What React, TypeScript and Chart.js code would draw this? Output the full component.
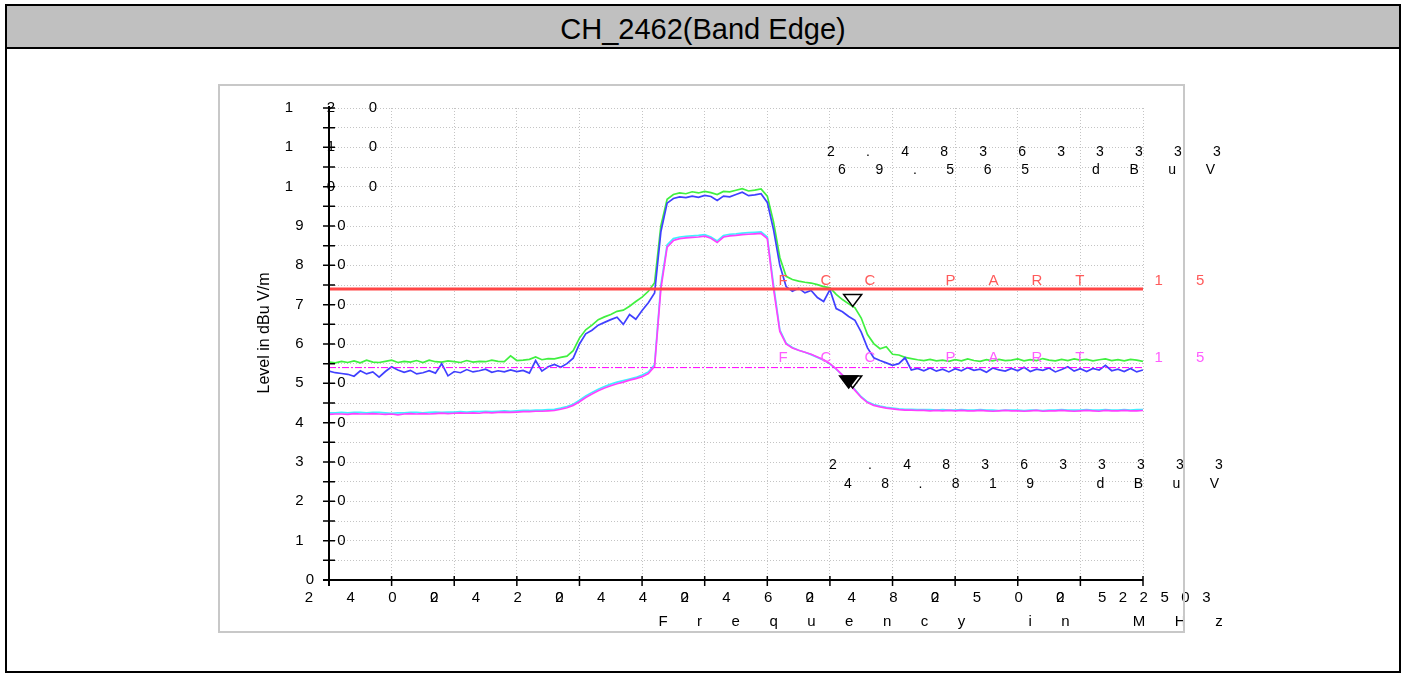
import React, { useEffect, useRef } from "react";
import { Chart, registerables } from "chart.js";

Chart.register(...registerables);

const TITLE = "CH_2462(Band Edge)";
const Y_AXIS_TITLE = "Level in dBu V/m";
const X_AXIS_TITLE = "Frequency in MHz";
const LIMIT_LABEL = "FCC PART 15";

// sweep grid: 2400 MHz .. 2530 MHz, 1 MHz per point
const sweepStartMHz = 2400;
const sweepStepMHz = 1;

// peak trace, horizontal (green)
const peakH = [
  55.4, 55.2, 55.6, 55.3, 55.7, 55.2, 55.9, 55.4, 55.3, 55.6,
  55.9, 55.3, 55.6, 55.4, 55.8, 55.3, 55.9, 55.5, 55.4, 55.7,
  55.5, 55.3, 55.8, 55.4, 55.6, 55.5, 55.9, 55.6, 55.5, 57.0,
  55.8, 55.9, 56.1, 56.7, 56.0, 56.3, 56.2, 56.6, 56.9, 58.3,
  61.5, 63.6, 64.8, 66.2, 66.9, 67.5, 68.3, 68.6, 69.6, 70.8,
  71.9, 73.4, 75.6, 90.0, 96.8, 98.0, 98.4, 98.2, 98.7, 98.4,
  98.8, 98.5, 98.0, 98.8, 98.7, 99.1, 99.5, 98.9, 99.1, 99.4,
  97.6, 91.0, 82.0, 77.2, 76.4, 76.0, 75.7, 75.5, 75.1, 74.6,
  74.3, 72.6, 71.3, 70.2, 69.2, 66.6, 62.4, 60.1, 58.8, 59.3,
  57.4, 57.2, 56.6, 56.3, 56.0, 55.8, 56.1, 55.7, 55.9, 55.6,
  56.0, 55.7, 56.2, 55.8, 55.6, 56.0, 55.7, 56.1, 55.8, 55.9,
  56.2, 55.7, 56.0, 55.8, 56.3, 55.9, 55.7, 56.1, 55.8, 56.2,
  55.9, 56.1, 55.7, 56.0, 56.2, 55.8, 56.0, 55.7, 56.1, 55.9, 55.6,
];

// peak trace, vertical (blue)
const peakV = [
  53.1, 52.7, 52.5, 52.3, 51.8, 53.2, 52.4, 52.9, 51.6, 53.0,
  54.2, 53.4, 52.8, 53.3, 52.4, 52.7, 53.2, 52.6, 55.0, 51.9,
  53.0, 52.7, 53.5, 52.9, 53.2, 53.6, 52.8, 53.2, 52.9, 53.4,
  53.0, 53.3, 52.6, 55.8, 53.1, 54.2, 54.8, 54.1, 55.0, 56.4,
  60.0, 62.6, 63.5, 64.8, 65.5, 66.2, 66.8, 65.0, 67.5, 66.3,
  68.5, 70.5, 73.0, 88.5, 95.8, 97.0, 97.4, 97.2, 97.6, 97.3,
  97.8, 97.5, 96.5, 97.6, 97.4, 98.0, 98.6, 97.7, 97.9, 98.2,
  96.0, 89.0, 80.0, 74.6, 73.4, 74.2, 73.0, 73.6, 71.8, 70.8,
  73.8, 69.0, 68.2, 67.0, 66.0, 63.0, 59.0, 56.5, 55.8, 55.2,
  54.6, 55.0, 56.5, 53.4, 53.8, 53.2, 53.9, 53.1, 53.6, 52.9,
  53.7, 53.2, 54.0, 53.3, 53.6, 52.8, 53.9, 53.4, 53.1, 53.8,
  53.2, 54.1, 53.0, 53.6, 53.3, 53.9, 52.9, 53.5, 54.2, 53.1,
  53.7, 53.0, 53.8, 53.4, 54.6, 53.2, 53.6, 53.0, 53.8, 52.9, 53.4,
];

// average trace, horizontal (cyan)
const avgH = [
  42.5, 42.5, 42.6, 42.5, 42.6, 42.6, 42.5, 42.6, 42.6, 42.5,
  42.4, 42.5, 42.5, 42.6, 42.6, 42.5, 42.6, 42.7, 42.6, 42.7,
  42.7, 42.8, 42.7, 42.8, 42.8, 42.9, 42.8, 42.9, 43.0, 42.9,
  43.0, 43.1, 43.1, 43.2, 43.2, 43.3, 43.4, 43.7, 44.1, 44.7,
  45.7, 46.8, 47.7, 48.5, 49.2, 49.8, 50.3, 50.7, 51.1, 51.5,
  52.1, 52.9, 54.8, 75.0, 85.2, 86.8, 87.2, 87.4, 87.5, 87.6,
  87.8, 87.2, 86.2, 87.6, 87.9, 88.0, 88.2, 88.3, 88.4, 88.5,
  87.2, 75.0, 63.6, 60.2, 59.1, 58.4, 57.9, 57.3, 56.6, 55.9,
  54.9, 53.6, 52.1, 50.2, 48.4, 46.6, 45.3, 44.6, 44.2, 43.9,
  43.7, 43.5, 43.4, 43.4, 43.3, 43.3, 43.3, 43.2, 43.3, 43.2,
  43.2, 43.3, 43.2, 43.2, 43.3, 43.2, 43.2, 43.1, 43.2, 43.2,
  43.2, 43.1, 43.2, 43.2, 43.1, 43.2, 43.2, 43.3, 43.2, 43.2,
  43.2, 43.3, 43.2, 43.2, 43.3, 43.2, 43.2, 43.3, 43.2, 43.3, 43.3,
];

// average trace, vertical (magenta)
const avgV = [
  42.1, 42.2, 42.2, 42.1, 42.3, 42.2, 42.2, 42.3, 42.2, 42.1,
  42.2, 42.0, 42.2, 42.3, 42.2, 42.3, 42.2, 42.3, 42.4, 42.3,
  42.4, 42.5, 42.4, 42.5, 42.4, 42.6, 42.5, 42.6, 42.7, 42.6,
  42.7, 42.8, 42.8, 42.9, 42.9, 43.0, 43.1, 43.4, 43.8, 44.4,
  45.3, 46.4, 47.3, 48.1, 48.8, 49.4, 49.9, 50.3, 50.8, 51.2,
  51.7, 52.5, 54.3, 74.0, 84.6, 86.3, 86.8, 87.0, 87.1, 87.2,
  87.4, 86.9, 85.8, 87.2, 87.5, 87.6, 87.8, 87.9, 88.0, 88.1,
  86.8, 74.0, 63.2, 60.0, 59.0, 58.4, 57.9, 57.4, 56.7, 56.0,
  55.0, 53.7, 52.1, 50.1, 48.2, 46.4, 45.1, 44.4, 44.0, 43.7,
  43.5, 43.3, 43.2, 43.2, 43.1, 43.1, 43.0, 43.1, 43.0, 43.1,
  43.0, 43.1, 43.0, 43.0, 43.1, 43.0, 42.9, 43.0, 43.1, 43.0,
  43.0, 42.9, 43.0, 43.1, 42.9, 43.0, 43.0, 43.1, 43.0, 42.9,
  43.0, 43.1, 43.0, 42.9, 43.1, 43.0, 43.0, 43.1, 43.0, 43.0, 43.1,
];

const limitFreq = [2400, 2530];
const peakLimit = [74, 74];
const avgLimit = [54, 54];

const yTickValues = [0, 5, 10, 15, 20, 25, 30, 35, 40, 45, 50, 55, 60, 65, 70, 75, 80, 85, 90, 95, 100, 105, 110, 115, 120];
const yLabelValues = [0, 10, 20, 30, 40, 50, 60, 70, 80, 90, 100, 110, 120];
const xTickValues = [2400, 2410, 2420, 2430, 2440, 2450, 2460, 2470, 2480, 2490, 2500, 2510, 2520, 2530];
const xLabelValues = [2400, 2420, 2440, 2460, 2480, 2500, 2520, 2530];

const markerFreq = [2483.633, 2483.633, 2483.0];
const markerLevel = [69.565, 48.819, 48.819];
const markerFilled = [false, false, true];
const markerReadoutFreq = ["2.483633333", "2.483633333"];
const markerReadoutLevel = ["69.565 dBuV", "48.819 dBuV"];

const FONT = '"Liberation Sans", Arial, sans-serif';

function drawPitched(ctx: CanvasRenderingContext2D, text: string, x: number, y: number, pitch: number) {
  for (let i = 0; i < text.length; i++) {
    if (text[i] !== " ") ctx.fillText(text[i], x + i * pitch, y);
  }
}

function drawSpaced(ctx: CanvasRenderingContext2D, text: string, x: number, y: number, spacing: number) {
  let cx = x;
  for (let i = 0; i < text.length; i++) {
    const w = ctx.measureText(text[i]).width;
    if (i > 0) {
      const pw = ctx.measureText(text[i - 1]).width;
      cx += pw / 2 + w / 2 + spacing;
    }
    if (text[i] !== " ") ctx.fillText(text[i], cx, y);
  }
}

const decorPlugin = {
  id: "decor",
  afterDraw(chart: any) {
    const ctx: CanvasRenderingContext2D = chart.ctx;
    const xs = chart.scales.x;
    const ys = chart.scales.y;
    const ax = xs.getPixelForValue(xs.min);
    const ay = ys.getPixelForValue(ys.min);
    const xr = xs.getPixelForValue(xs.max);
    ctx.save();

    // axes
    ctx.strokeStyle = "#000";
    ctx.lineWidth = 2;
    ctx.beginPath();
    ctx.moveTo(ax, ys.getPixelForValue(ys.max) - 2);
    ctx.lineTo(ax, ay + 6);
    ctx.moveTo(ax - 6, ay);
    ctx.lineTo(xr, ay);
    ctx.stroke();

    ctx.lineWidth = 1.5;
    ctx.beginPath();
    for (const v of yTickValues) {
      const py = ys.getPixelForValue(v);
      ctx.moveTo(ax - 6, py);
      ctx.lineTo(ax + 6, py);
    }
    for (const v of xTickValues) {
      const px = xs.getPixelForValue(v);
      ctx.moveTo(px, ay - 4);
      ctx.lineTo(px, ay + 6);
    }
    ctx.stroke();

    // markers (tip on the trace point)
    for (let i = 0; i < markerFreq.length; i++) {
      const px = xs.getPixelForValue(markerFreq[i]);
      const py = ys.getPixelForValue(markerLevel[i]);
      ctx.beginPath();
      ctx.moveTo(px, py);
      ctx.lineTo(px - 9, py - 12);
      ctx.lineTo(px + 9, py - 12);
      ctx.closePath();
      ctx.fillStyle = markerFilled[i] ? "#000" : "#fff";
      ctx.fill();
      ctx.strokeStyle = "#000";
      ctx.lineWidth = 1.5;
      ctx.stroke();
    }

    // texts, clipped like the original export
    ctx.beginPath();
    ctx.rect(0, 0, 1236, chart.height);
    ctx.clip();
    ctx.textAlign = "center";
    ctx.textBaseline = "middle";
    ctx.fillStyle = "#000";

    ctx.font = `15px ${FONT}`;
    for (const v of yLabelValues) {
      const s = String(v);
      drawPitched(ctx, s, ax - 19 - (s.length - 1) * 10.5, ys.getPixelForValue(v), 42);
    }
    for (const v of xLabelValues) {
      drawPitched(ctx, String(v), xs.getPixelForValue(v) - 20, ay + 18, 41.7);
    }

    ctx.font = `15px ${FONT}`;
    drawSpaced(ctx, X_AXIS_TITLE, ax + 334, ay + 42, 29.5);

    ctx.save();
    ctx.font = `16px ${FONT}`;
    ctx.translate(ax - 64, ay - 247);
    ctx.rotate(-Math.PI / 2);
    ctx.fillText(Y_AXIS_TITLE, 0, 0);
    ctx.restore();

    // limit labels
    ctx.font = `15px ${FONT}`;
    ctx.fillStyle = "#ff5a5a";
    drawSpaced(ctx, LIMIT_LABEL, ax + 454, ys.getPixelForValue(peakLimit[0]) - 8, 33);
    ctx.fillStyle = "#ff5cff";
    drawSpaced(ctx, LIMIT_LABEL, ax + 454, ys.getPixelForValue(avgLimit[0]) - 10, 33);

    // marker readouts
    ctx.fillStyle = "#000";
    ctx.font = `14px ${FONT}`;
    drawSpaced(ctx, markerReadoutFreq[0], ax + 502, 152, 31.2);
    drawSpaced(ctx, markerReadoutLevel[0], ax + 513, 170, 29.6);
    drawSpaced(ctx, markerReadoutFreq[1], ax + 504, 465, 31.2);
    drawSpaced(ctx, markerReadoutLevel[1], ax + 519, 484, 29.4);

    ctx.restore();
  },
};

export default function App() {
  const canvasRef = useRef<HTMLCanvasElement | null>(null);

  useEffect(() => {
    const canvas = canvasRef.current;
    if (!canvas) return;
    const freq = peakH.map((_, i) => sweepStartMHz + i * sweepStepMHz);
    const pts = (vals: number[]) => vals.map((v, i) => ({ x: freq[i], y: v }));
    const lim = (vals: number[]) => vals.map((v, i) => ({ x: limitFreq[i], y: v }));

    const chart = new Chart(canvas, {
      type: "line",
      data: {
        datasets: [
          { label: "FCC PART 15 peak", data: lim(peakLimit), borderColor: "#ff4646", borderWidth: 3 },
          { label: "FCC PART 15 avg", data: lim(avgLimit), borderColor: "#ff00ff", borderWidth: 1, borderDash: [7, 2, 2, 2] },
          { label: "Average V", data: pts(avgV), borderColor: "#ff40ff", borderWidth: 1.7 },
          { label: "Average H", data: pts(avgH), borderColor: "#40f0ff", borderWidth: 1.7 },
          { label: "Peak V", data: pts(peakV), borderColor: "#4040ff", borderWidth: 1.7 },
          { label: "Peak H", data: pts(peakH), borderColor: "#40f040", borderWidth: 1.7 },
        ],
      },
      options: {
        animation: false,
        responsive: false,
        devicePixelRatio: 1,
        layout: { padding: { left: 329, right: 260, top: 108, bottom: 93 } },
        elements: { point: { radius: 0 }, line: { tension: 0 } },
        plugins: { legend: { display: false }, tooltip: { enabled: false } },
        scales: {
          x: {
            type: "linear",
            min: 2400,
            max: 2530,
            ticks: { display: false, stepSize: 10, maxTicksLimit: 100, autoSkip: false },
            grid: { color: "#c4c4c4", lineWidth: 1, drawTicks: false },
            border: { display: false, dash: [1, 2] },
            afterFit: (s: any) => { s.height = 0; },
          },
          y: {
            type: "linear",
            min: 0,
            max: 120,
            ticks: { display: false, stepSize: 5, maxTicksLimit: 100, autoSkip: false },
            grid: { color: "#c4c4c4", lineWidth: 1, drawTicks: false },
            border: { display: false, dash: [1, 2] },
            afterFit: (s: any) => { s.width = 0; },
          },
        },
      } as any,
      plugins: [decorPlugin],
    });
    return () => chart.destroy();
  }, []);

  return (
    <div style={{ position: "absolute", left: 0, top: 0, width: 1403, height: 673, background: "#fff", overflow: "hidden" }}>
      <canvas ref={canvasRef} width={1403} height={673} style={{ position: "absolute", left: 0, top: 0, width: 1403, height: 673 }} />
      <div style={{ position: "absolute", left: 218, top: 84, width: 967, height: 549, boxSizing: "border-box", border: "2px solid #c8c8c8" }} />
      <div style={{ position: "absolute", left: 5, top: 4, width: 1396, height: 669, boxSizing: "border-box", border: "2px solid #000" }} />
      <div
        style={{
          position: "absolute", left: 7, top: 6, width: 1392, height: 43, boxSizing: "border-box",
          background: "#c0c0c0", borderBottom: "2px solid #000", paddingTop: 5,
          display: "flex", alignItems: "center", justifyContent: "center",
          fontFamily: FONT, fontSize: 29, color: "#000",
        }}
      >
        {TITLE}
      </div>
    </div>
  );
}
